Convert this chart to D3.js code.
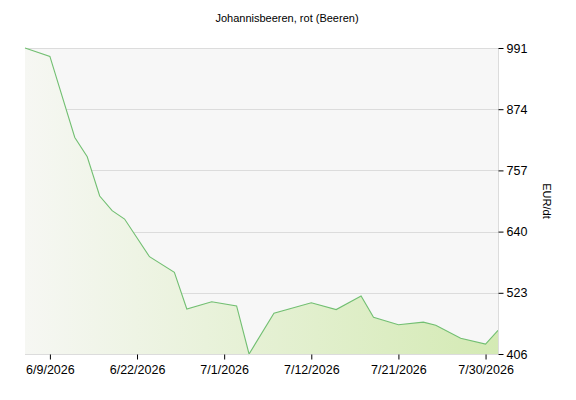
<!DOCTYPE html>
<html><head><meta charset="utf-8">
<script src="https://cdn.jsdelivr.net/npm/d3@7"></script>
<style>
body{margin:0;background:#fff;}
svg text{font-family:"Liberation Sans",Arial,sans-serif;}
</style></head><body>
<svg id="c" width="576" height="400"></svg>
<script>
// Data (slot index along the category axis, value in EUR/dt)
const slots = [0,2,4,5,6,7,8,10,12,13,15,17,18,20,23,25,27,28,30,32,33,35,37,38];
const values = [991,975,820,783,708,680,664,592,562,492,506,498,406,484,504,491,517,476,462,467,461,436,425,451];
const slotCount = 39;
const tickSlots = [2,9,16,23,30,37];
const tickLabels = ["6/9/2026","6/22/2026","7/1/2026","7/12/2026","7/21/2026","7/30/2026"];
const yTicks = [406,523,640,757,874,991];
const title = "Johannisbeeren, rot (Beeren)";
const yTitle = "EUR/dt";

const svg = d3.select("#c");
const L=25,R=498,T=48,B=354;
const x = d3.scaleLinear().domain([0,slotCount-1]).range([L,R]);
const y = d3.scaleLinear().domain([406,991]).range([B,T]);

const defs = svg.append("defs");
const g = defs.append("linearGradient").attr("id","fillg").attr("x1","0").attr("x2","1").attr("y1","0").attr("y2","0");
g.append("stop").attr("offset","0").attr("stop-color","#f6f7f3");
g.append("stop").attr("offset","1").attr("stop-color","#d4eab4");

svg.append("rect").attr("x",L).attr("y",T).attr("width",R-L).attr("height",B-T).attr("fill","#f7f7f7");

// grid
svg.append("g").selectAll("line").data(yTicks).join("line")
  .attr("x1",L).attr("x2",R).attr("y1",d=>Math.round(y(d))+0.5).attr("y2",d=>Math.round(y(d))+0.5)
  .attr("stroke","#dcdcdc");

const pts = slots.map((s,i)=>[s,values[i]]);
svg.append("path").datum(pts)
  .attr("d",d3.area().x(d=>x(d[0])).y0(B).y1(d=>y(d[1])))
  .attr("fill","url(#fillg)");
svg.append("path").datum(pts)
  .attr("d",d3.line().x(d=>x(d[0])).y(d=>y(d[1])))
  .attr("fill","none").attr("stroke","#72bf72").attr("stroke-width",1.1);

// right border line
svg.append("line").attr("x1",R+0.5).attr("x2",R+0.5).attr("y1",T).attr("y2",B).attr("stroke","#dcdcdc");

// right axis
const ya = d3.axisRight(y).tickValues(yTicks).tickSize(5).tickPadding(3).tickFormat(d3.format("d"));
const yg = svg.append("g").attr("transform",`translate(${R+0.5},0)`).call(ya);
yg.select(".domain").remove();
yg.selectAll("text").attr("font-size","12.5px").attr("fill","#000").attr("font-family","Liberation Sans, Arial, sans-serif");
yg.selectAll("line").attr("stroke","#000");

// bottom axis
const xa = d3.axisBottom(x).tickValues(tickSlots).tickSize(5).tickPadding(6).tickFormat((d,i)=>tickLabels[i]);
const xg = svg.append("g").attr("transform",`translate(0,${B+0.5})`).call(xa);
xg.select(".domain").attr("stroke","#dcdcdc").attr("d",`M${L},0H${R}`);
xg.selectAll("text").attr("font-size","12.5px").attr("fill","#000").attr("font-family","Liberation Sans, Arial, sans-serif");
xg.selectAll("line").attr("stroke","#000");

svg.append("text").attr("x",287).attr("y",22).attr("text-anchor","middle")
  .attr("font-size","11px").attr("fill","#000").text(title);
svg.append("text").attr("transform","translate(543,201) rotate(90)").attr("text-anchor","middle")
  .attr("font-size","11px").attr("fill","#000").text(yTitle);
</script></body></html>
